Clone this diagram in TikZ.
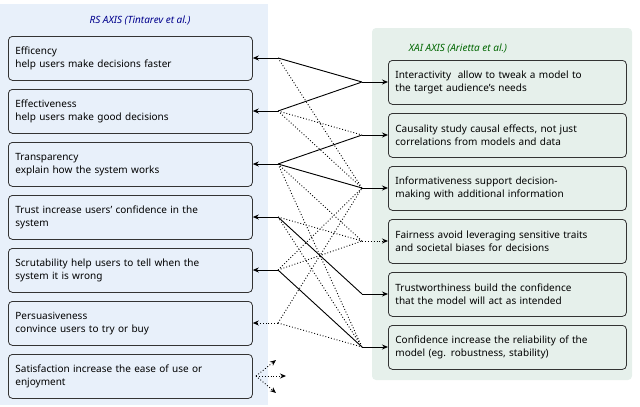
\documentclass[tikz,border=0pt]{standalone}
\usepackage{fontspec}
\setmainfont{Noto Sans}
\usetikzlibrary{arrows.meta}
\definecolor{lbg}{HTML}{E8F0FA}
\definecolor{rbg}{HTML}{E6F0EB}
\hyphenpenalty=10000
\exhyphenpenalty=10000
\begin{document}
\begin{tikzpicture}[x=1pt,y=-1pt,font=\fontsize{10}{12.5}\selectfont,
 box/.style={draw=black!80,line width=0.8pt,rounded corners=4pt,align=left,anchor=north west,inner xsep=7pt,inner ysep=4pt,text width=#1},
 sol/.style={line width=0.9pt,-{Stealth[length=6pt,width=5pt]}},
 dot/.style={line width=0.9pt,dotted},
 dota/.style={dot,-{Stealth[length=6pt,width=5pt]}}]
\useasboundingbox (0,0) rectangle (640,407);
\fill[lbg] (0,4) rectangle (268,405);
\fill[rbg,rounded corners=4pt] (372,28) rectangle (632,380);
\node[font=\fontsize{10}{12}\selectfont\itshape,text=blue!55!black] (t1) at (140,20) {RS AXIS (Tintarev et al.)};
\node[font=\fontsize{10}{12}\selectfont\itshape,text=green!40!black] (t2) at (458,48) {XAI AXIS (Arietta et al.)};
% left boxes
\node[box=230pt,minimum height=44pt] (l1) at (8,36) {\textbf{Efficency}\\help users make decisions faster};
\node[box=230pt,minimum height=44pt] (l2) at (8,89) {\textbf{Effectiveness}\\help users make good decisions};
\node[box=230pt,minimum height=44pt] (l3) at (8,142) {\textbf{Transparency}\\explain how the system works};
\node[box=230pt,minimum height=44pt] (l4) at (8,195) {\textbf{Trust} increase users' confidence in the\\system};
\node[box=230pt,minimum height=44pt] (l5) at (8,248) {\textbf{Scrutability} help users to tell when the\\system it is wrong};
\node[box=230pt,minimum height=44pt] (l6) at (8,301) {\textbf{Persuasiveness}\\convince users to try or buy};
\node[box=230pt,minimum height=44pt] (l7) at (8,354) {\textbf{Satisfaction} increase the ease of use or\\enjoyment};
% right boxes
\node[box=224pt,minimum height=44pt] (r1) at (388,60) {\textbf{Interactivity}\ \ allow to tweak a model to\\the target audience's needs};
\node[box=224pt,minimum height=44pt] (r2) at (388,113) {\textbf{Causality} study causal effects, not just\\correlations from models and data};
\node[box=224pt,minimum height=44pt] (r3) at (388,166) {\textbf{Informativeness} support decision-\\making with additional information};
\node[box=224pt,minimum height=44pt] (r4) at (388,219) {\textbf{Fairness} avoid leveraging sensitive traits\\and societal biases for decisions};
\node[box=224pt,minimum height=44pt] (r5) at (388,272) {\textbf{Trustworthiness} build the confidence\\that the model will act as intended};
\node[box=224pt,minimum height=44pt] (r6) at (388,325) {\textbf{Confidence} increase the reliability of the\\model (eg. robustness, stability)};
% hubs
\foreach \i/\y in {1/58,2/111,3/164,4/217,5/270,6/323}{\coordinate (h\i) at (278,\y);}
\foreach \i/\y in {1/82,2/135,3/188,4/241,5/294,6/347}{\coordinate (k\i) at (362,\y);}
\foreach \i in {1,...,5}{\draw[sol] (h\i) -- (l\i.east|-h\i);}
\draw[dota] (h6) -- (l6.east|-h6);
\foreach \i in {1,2,3,5,6}{\draw[sol] (k\i) -- (r\i.west|-k\i);}
\draw[dota] (k4) -- (r4.west|-k4);
% solid links
\draw[line width=0.9pt] (h1)--(k1) (h2)--(k1) (h3)--(k2) (h3)--(k3) (h4)--(k5) (h5)--(k6);
% dotted links
\draw[dot] (h1)--(k3) (h2)--(k2) (h2)--(k3) (h3)--(k4) (h3)--(k6) (h4)--(k4) (h4)--(k6)
 (h5)--(k4) (h5)--(k3) (h6)--(k3) (h6)--(k6);
% satisfaction
\coordinate (s0) at (256,376);
\coordinate (s1) at (276,360);
\coordinate (s2) at (286,376);
\coordinate (s3) at (276,393);
\draw[dota] (s0)--(s1);
\draw[dota] (s0)--(s2);
\draw[dota] (s0)--(s3);
\end{tikzpicture}
\end{document}
